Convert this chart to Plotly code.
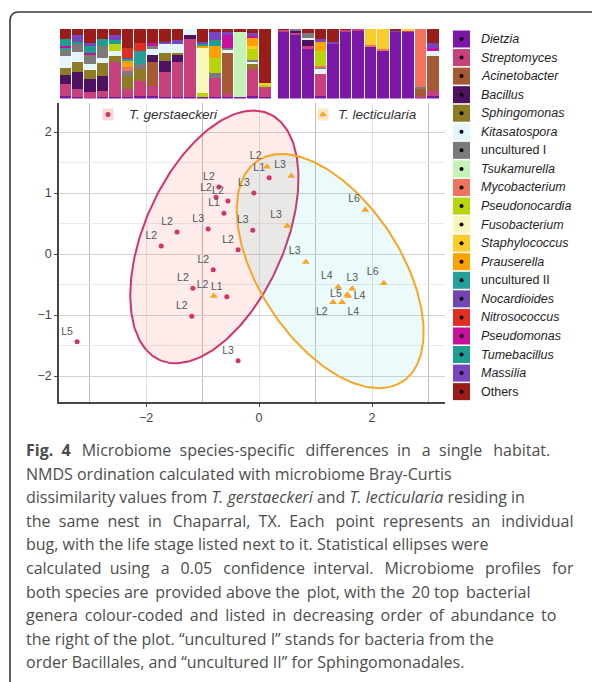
import numpy as np
import plotly.graph_objects as go

W, H = 592, 682

# ---------------- data ----------------
genera = ["Dietzia", "Streptomyces", "Acinetobacter", "Bacillus", "Sphingomonas",
          "Kitasatospora", "uncultured I", "Tsukamurella", "Mycobacterium", "Pseudonocardia",
          "Fusobacterium", "Staphylococcus", "Prauserella", "uncultured II", "Nocardioides",
          "Nitrosococcus", "Pseudomonas", "Tumebacillus", "Massilia", "Others"]
codes = ["Di", "St", "Ac", "Ba", "Sp", "Ki", "U1", "Ts", "My", "Ps",
         "Fu", "Sa", "Pr", "U2", "No", "Ni", "Pm", "Tu", "Ma", "Ot"]
genus_colors = ["#7b17a6", "#c8407c", "#a65a33", "#4e1262", "#8f7b25",
                "#e2f6fb", "#7f7a7a", "#c6f2b7", "#ef735d", "#b8d40a",
                "#f8f6b8", "#fbcd2a", "#fba100", "#259f99", "#7146b3",
                "#df2e22", "#c9109c", "#1e9d91", "#7845bf", "#9b1d1a"]
genus_italic = [True, True, True, True, True, True, False, True, True, True,
                True, True, True, False, True, True, True, True, True, False]

# relative abundance (%) of each individual bug, T. gerstaeckeri
gerst_bars = [
    dict(Ot=14, Tu=10, Pm=3, U2=3, U1=9, Ki=17, Sp=10, Ba=13, St=18, Di=3),
    dict(Ot=8, Ma=10, Tu=3, U1=12, Ki=15, Sp=14, Ba=25, St=11, Di=2),
    dict(Ot=20, Ma=5, Tu=10, Pm=2, U1=14, Ki=8, Sp=13, Ba=19, St=8, Di=1),
    dict(Ot=15, Tu=10, U1=17, Ki=7, Sp=18, Ba=22, St=9, Di=2),
    dict(Ot=8, Ma=8, Tu=6, Ps=10, Ki=7, Sp=9, St=50, Di=2),
    dict(Ot=27, Ni=14, No=2, U2=3, Pr=8, My=6, U1=8, Sp=18, St=12, Di=2),
    dict(Ot=20, Ni=12, U2=19, U1=7, Sp=17, St=22, Di=3),
    dict(Ot=20, Pm=5, U1=4, Ki=8, Ba=11, Ac=34, St=15, Di=3),
    dict(Ot=19, Ma=3, Ki=12, Sp=12, Ba=16, St=36, Di=2),
    dict(Ot=16, Ma=5, Ki=13, Sp=4, Ba=10, St=50, Di=2),
    dict(Ki=8, Ba=6, St=84, Di=2),
    dict(Ot=19, Ma=3, Tu=2, Pr=4, Fu=64, Ps=6, Di=2),
    dict(Ot=5, Ma=11, Tu=9, Pr=17, Ps=21, U1=7, St=28, Di=2),
    dict(Ot=5, Ma=4, Pm=18, U1=3, Ki=5, Ac=58, St=5, Di=2),
    dict(Ot=5, Ts=93, Di=2),
    dict(Ot=6, Ma=4, Pm=3, Pr=11, Sa=5, Ps=15, U1=3, Ki=4, Sp=6, St=40, Di=3),
    dict(Ot=78, Sa=3, Ps=3, St=14, Di=2),
]
# T. lecticularia
lect_bars = [
    dict(Ot=1, St=2, Di=97),
    dict(U1=3, Ba=3, St=3, Di=91),
    dict(Ot=6, U1=7, Ki=3, Ba=9, St=4, Di=71),
    dict(Ot=14, Ma=5, Pr=13, Ps=21, My=2, U1=2, Ki=8, St=32, Di=3),
    dict(Ot=19, Ma=2, Di=79),
    dict(Ot=1, St=2, Di=97),
    dict(St=2, Di=98),
    dict(Sa=23, My=2, Di=75),
    dict(Sa=29, My=2, Di=69),
    dict(Ot=2, Ma=3, Di=95),
    dict(Sa=2, St=1, Di=97),
    dict(My=83, U1=3, Ac=10, St=2, Di=2),
    dict(Ot=20, Ma=7, Pm=5, Ki=7, Ac=50, St=8, Di=3),
]

# NMDS coordinates
gerst_x = [-0.71, -0.76, -0.55, -0.62, -0.90, -1.45, -1.73, -0.37, -0.11, -0.09, 0.18,
           -0.81, -1.17, -0.57, -1.19, -3.22, -0.37]
gerst_y = [1.10, 0.93, 0.87, 0.67, 0.41, 0.36, 0.13, 0.07, 0.39, 1.00, 1.25,
           -0.26, -0.56, -0.70, -1.02, -1.44, -1.75]
gerst_stage = ["L2", "L2", "L2", "L1", "L3", "L2", "L2", "L2", "L3", "L3", "L1",
               "L2", "L2", "L1", "L2", "L5", "L3"]

lect_x = [0.14, 0.57, 0.50, 1.88, 0.83, 2.21, -0.80, 1.40, 1.65, 1.56, 1.58, 1.47, 1.31]
lect_y = [1.43, 1.28, 0.46, 0.72, -0.13, -0.48, -0.69, -0.54, -0.57, -0.67, -0.69, -0.79, -0.79]
lect_stage = ["L2", "L3", "L3", "L6", "L3", "L6", "L2", "L4", "L3", "L5", "L4", "L4", "L2"]

# statistical ellipses (centre x, centre y, semi-major, semi-minor, angle deg)
gerst_ellipse = [-0.79, 0.28, 2.24, 1.22, 63]
lect_ellipse = [1.26, -0.28, 2.22, 1.22, -53]

caption_lines = [
    "<b>Fig. 4</b> Microbiome species-specific differences in a single habitat.",
    "NMDS ordination calculated with microbiome Bray-Curtis",
    "dissimilarity values from <i>T. gerstaeckeri</i> and <i>T. lecticularia</i> residing in",
    "the same nest in Chaparral, TX. Each point represents an individual",
    "bug, with the life stage listed next to it. Statistical ellipses were",
    "calculated using a 0.05 confidence interval. Microbiome profiles for",
    "both species are provided above the plot, with the 20 top bacterial",
    "genera colour-coded and listed in decreasing order of abundance to",
    "the right of the plot. \u201cuncultured I\u201d stands for bacteria from the",
    "order Bacillales, and \u201cuncultured II\u201d for Sphingomonadales.",
]

# ---------------- styles ----------------
PINK = "#d2336d"
ORANGE = "#f9a524"
LABEL_FONT = dict(family="Liberation Sans, Arial, sans-serif", size=10.5, color="#555555")
gerst_textpos = ["top left"] * len(gerst_x)
lect_textpos = ["top left", "top left", "top left", "top left", "top left", "top left", "top left",
                "top left", "top center", "middle left", "middle right", "bottom right", "bottom left"]
# extra inter-word padding per caption line, emulating the justified typesetting
NB, THIN = "\u00a0", "\u2009"
caption_gap_pad = [NB, "", "", NB, "", NB, "", "", "", ""]
caption_extra_thin = [4, 0, 0, 3, 0, 6, 4, 9, 0, 0]


def fx(p):
    return p / W


def fy(p):
    return 1 - p / H


def spread(line, pad, nthin):
    words = line.split(" ")
    gaps = len(words) - 1
    out = words[0]
    for i in range(gaps):
        k = (i + 1) * nthin // gaps - i * nthin // gaps if gaps else 0
        out += " " + pad + THIN * k + words[i + 1]
    return out


fig = go.Figure()

# --- bars ---
for bars, xa, ya in [(gerst_bars, "x2", "y2"), (lect_bars, "x3", "y3")]:
    totals = [sum(b.values()) for b in bars]
    idx = list(range(len(bars)))
    for code, name, col in zip(codes, genera, genus_colors):
        vals = [100.0 * b.get(code, 0) / t for b, t in zip(bars, totals)]
        fig.add_trace(go.Bar(x=idx, y=vals, name=name, marker=dict(color=col, line=dict(width=0)),
                             xaxis=xa, yaxis=ya, showlegend=False, hoverinfo="skip"))


# --- ellipses ---
def ellipse_xy(params, n=240):
    cx, cy, a, b, ang = params
    t = np.linspace(0, 2 * np.pi, n)
    th = np.deg2rad(ang)
    ex = cx + a * np.cos(th) * np.cos(t) - b * np.sin(th) * np.sin(t)
    ey = cy + a * np.sin(th) * np.cos(t) + b * np.cos(th) * np.sin(t)
    return ex, ey


for params, fillc, linec in [(gerst_ellipse, "rgba(248,118,109,0.14)", PINK),
                             (lect_ellipse, "rgba(0,191,196,0.08)", ORANGE)]:
    ex, ey = ellipse_xy(params)
    fig.add_trace(go.Scatter(x=ex, y=ey, mode="lines", fill="toself", fillcolor=fillc,
                             line=dict(color=linec, width=2), xaxis="x", yaxis="y",
                             hoverinfo="skip", showlegend=False))

# --- points ---
fig.add_trace(go.Scatter(x=gerst_x, y=gerst_y, mode="markers+text", text=gerst_stage,
                         textposition=gerst_textpos, textfont=LABEL_FONT,
                         marker=dict(color=PINK, size=5, symbol="circle"),
                         xaxis="x", yaxis="y", name="T. gerstaeckeri", showlegend=False))
fig.add_trace(go.Scatter(x=lect_x, y=lect_y, mode="markers+text", text=lect_stage,
                         textposition=lect_textpos, textfont=LABEL_FONT,
                         marker=dict(color=ORANGE, size=7, symbol="triangle-up"),
                         xaxis="x", yaxis="y", name="T. lecticularia", showlegend=False))

# --- genus legend on a pixel overlay axis ---
LEG_X, LEG_Y0, LEG_DY = 461.5, 39.0, 18.56
leg_y = [LEG_Y0 + i * LEG_DY for i in range(len(genera))]
fig.add_trace(go.Scatter(x=[LEG_X] * len(genera), y=leg_y, mode="markers",
                         marker=dict(symbol="square", size=17, color=genus_colors, line=dict(width=0)),
                         xaxis="x4", yaxis="y4", hoverinfo="skip", showlegend=False))
fig.add_trace(go.Scatter(x=[LEG_X] * len(genera), y=leg_y, mode="markers",
                         marker=dict(symbol="circle", size=4, color="black"),
                         xaxis="x4", yaxis="y4", hoverinfo="skip", showlegend=False))

annotations = []
for name, it, yy in zip(genera, genus_italic, leg_y):
    annotations.append(dict(x=479, y=yy, xref="x4", yref="y4", xanchor="left", yanchor="middle",
                            text=(f"<i>{name}</i>" if it else name), showarrow=False,
                            font=dict(family="Liberation Sans, Arial, sans-serif", size=12.5, color="#1e1e1e")))

# --- species legend inside scatter ---
shapes = [
    dict(type="rect", xref="x4", yref="y4", x0=102.5, x1=113.5, y0=108.5, y1=120.5,
         fillcolor="rgba(248,118,109,0.28)", line=dict(width=0), layer="below"),
    dict(type="rect", xref="x4", yref="y4", x0=317.5, x1=328.5, y0=108.5, y1=120.5,
         fillcolor="rgba(249,165,36,0.28)", line=dict(width=0), layer="below"),
]
fig.add_trace(go.Scatter(x=[108], y=[114.5], mode="markers", marker=dict(color=PINK, size=5),
                         xaxis="x4", yaxis="y4", hoverinfo="skip", showlegend=False))
fig.add_trace(go.Scatter(x=[323], y=[114.5], mode="markers",
                         marker=dict(color=ORANGE, size=7, symbol="triangle-up"),
                         xaxis="x4", yaxis="y4", hoverinfo="skip", showlegend=False))
for txt, xx in [("<i>T. gerstaeckeri</i>", 127), ("<i>T. lecticularia</i>", 336)]:
    annotations.append(dict(x=xx, y=114.5, xref="x4", yref="y4", xanchor="left", yanchor="middle",
                            text=txt, showarrow=False,
                            font=dict(family="Liberation Sans, Arial, sans-serif", size=13.5, color="#333333")))

# --- caption ---
CAP_Y0, CAP_DY = 450.0, 23.6
for i, (line, pad, nthin) in enumerate(zip(caption_lines, caption_gap_pad, caption_extra_thin)):
    annotations.append(dict(x=24, y=CAP_Y0 + i * CAP_DY, xref="x4", yref="y4", xanchor="left",
                            yanchor="middle", text=spread(line, pad, nthin), showarrow=False,
                            font=dict(family="Open Sans, sans-serif", size=16, color="#4d4d4d")))

# --- frame of the figure panel ---
shapes.append(dict(type="path", xref="x4", yref="y4",
                   path="M 10,700 L 10,21 Q 10,12 19,12 L 600,12",
                   line=dict(color="#3a3a3a", width=1.6)))
# odd dark segment present in the original
shapes.append(dict(type="line", xref="x", yref="y", x0=-1, x1=-1, y0=-1, y1=1,
                   line=dict(color="#9a9a9a", width=1.2), layer="below"))

SX0, SX1 = 59, 445
SY0, SY1 = 103, 402
x_per_px = 1 / 56.5
y_per_px = 1 / 61.0
x_zero_px, y_zero_px = 259, 254

fig.update_layout(
    width=W, height=H, margin=dict(l=0, r=0, t=0, b=0),
    paper_bgcolor="white", plot_bgcolor="rgba(0,0,0,0)",
    barmode="stack", bargap=0.08, showlegend=False,
    annotations=annotations, shapes=shapes,
    xaxis=dict(domain=[fx(SX0), fx(SX1)],
               range=[(SX0 - x_zero_px) * x_per_px, (SX1 - x_zero_px) * x_per_px],
               tickvals=[-2, 0, 2], showgrid=True, gridcolor="#e2e2e2", gridwidth=1,
               minor=dict(tickvals=[-3, -1, 1, 3], showgrid=True, gridcolor="#bdbdbd", gridwidth=1),
               showline=True, linecolor="#474747", linewidth=1.6, ticks="outside", ticklen=3,
               tickcolor="#474747", tickfont=dict(family="Liberation Sans, Arial", size=12.5, color="#444"),
               zeroline=False, anchor="y"),
    yaxis=dict(domain=[fy(SY1), fy(SY0)],
               range=[(y_zero_px - SY1) * y_per_px, (y_zero_px - SY0) * y_per_px],
               tickvals=[-2, -1, 0, 1, 2], showgrid=True, gridcolor="#d2d2d2", gridwidth=1,
               minor=dict(tickvals=[-1.5, -0.5, 0.5, 1.5], showgrid=True, gridcolor="#ebebeb", gridwidth=1),
               showline=True, linecolor="#474747", linewidth=1.6, ticks="outside", ticklen=3,
               tickcolor="#474747", tickfont=dict(family="Liberation Sans, Arial", size=12.5, color="#444"),
               zeroline=False, anchor="x"),
    xaxis2=dict(domain=[fx(59), fx(271)], range=[-0.5, len(gerst_bars) - 0.5], visible=False, anchor="y2"),
    yaxis2=dict(domain=[fy(98.5), fy(29)], range=[0, 100], visible=False, anchor="x2"),
    xaxis3=dict(domain=[fx(277), fx(439)], range=[-0.5, len(lect_bars) - 0.5], visible=False, anchor="y3"),
    yaxis3=dict(domain=[fy(98.5), fy(29)], range=[0, 100], visible=False, anchor="x3"),
    xaxis4=dict(domain=[0, 1], range=[0, W], visible=False, anchor="y4", fixedrange=True),
    yaxis4=dict(domain=[0, 1], range=[H, 0], visible=False, anchor="x4", fixedrange=True),
)

fig.write_html("out.html")
